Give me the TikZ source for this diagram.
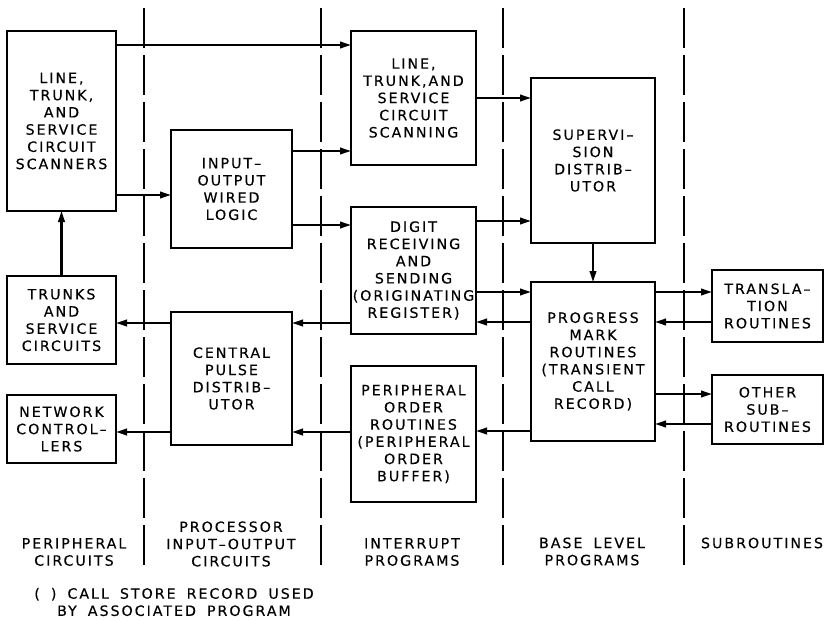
\documentclass[tikz,border=0pt]{standalone}
\usepackage{fontspec}
\setmainfont{DejaVu Sans}[LetterSpace=14,FakeBold=0.3,WordSpace=1.7]
\usetikzlibrary{arrows.meta}
\newcommand\lbl{\fontsize{14.2}{17.2}\selectfont}
\begin{document}
\begin{tikzpicture}[x=1pt,y=-1pt,
  box/.style={draw, line width=1.4pt, inner sep=0pt, outer sep=0pt, align=center, font=\lbl},
  arr/.style={line width=2.2pt, -{Triangle[length=11pt,width=6.5pt]}},
  divider/.style={line width=1.1pt, dash pattern=on 40pt off 7pt},
  lab/.style={align=center, font=\lbl, inner sep=0pt}]
\useasboundingbox[fill=white] (0,0) rectangle (828,621);
% dividers
\draw[divider] (144,8) -- (144,568);
\draw[divider] (321,8) -- (321,568);
\draw[divider] (503,8) -- (503,568);
\draw[divider] (684,8) -- (684,568);
% boxes
\node[box, minimum width=109pt, minimum height=180pt] (scan) at (61.5,121) {LINE,\\TRUNK,\\AND\\SERVICE\\CIRCUIT\\SCANNERS};
\node[box, minimum width=121pt, minimum height=118pt] (iol) at (231.5,189) {INPUT–\\OUTPUT\\WIRED\\LOGIC};
\node[box, minimum width=125pt, minimum height=134pt] (lts) at (413.5,98) {LINE,\\TRUNK,AND\\SERVICE\\CIRCUIT\\SCANNING};
\node[box, minimum width=125pt, minimum height=127pt] (dig) at (413.5,270.5) {DIGIT\\RECEIVING\\AND\\SENDING\\(ORIGINATING\\REGISTER)};
\node[box, minimum width=124pt, minimum height=165pt] (sup) at (593,160.5) {SUPERVI–\\SION\\DISTRIB–\\UTOR};
\node[box, minimum width=124pt, minimum height=159pt] (prog) at (593,361.5) {PROGRESS\\MARK\\ROUTINES\\(TRANSIENT\\CALL\\RECORD)};
\node[box, minimum width=109pt, minimum height=88pt] (trk) at (61.5,320) {TRUNKS\\AND\\SERVICE\\CIRCUITS};
\node[box, minimum width=121pt, minimum height=133pt] (cpd) at (231.5,378.5) {CENTRAL\\PULSE\\DISTRIB–\\UTOR};
\node[box, minimum width=109pt, minimum height=68pt] (net) at (61.5,429) {NETWORK\\CONTROL–\\LERS};
\node[box, minimum width=125pt, minimum height=136pt] (por) at (413.5,434) {PERIPHERAL\\ORDER\\ROUTINES\\(PERIPHERAL\\ORDER\\BUFFER)};
\node[box, minimum width=111pt, minimum height=72pt] (trans) at (767.5,306) {TRANSLA–\\TION\\ROUTINES};
\node[box, minimum width=111pt, minimum height=69pt] (oth) at (767.5,409.5) {OTHER\\SUB–\\ROUTINES};
% connectors
\draw[arr] (scan.east |- 0,45) -- (lts.west |- 0,45);
\draw[arr] (scan.east |- 0,195) -- (iol.west |- 0,195);
\draw[arr] (iol.east |- 0,151) -- (lts.west |- 0,151);
\draw[arr] (iol.east |- 0,225) -- (dig.west |- 0,225);
\draw[arr] (lts.east |- 0,98) -- (sup.west |- 0,98);
\draw[arr] (dig.east |- 0,221) -- (sup.west |- 0,221);
\draw[arr] (sup.south) -- (prog.north);
\draw[arr] (dig.east |- 0,292) -- (prog.west |- 0,292);
\draw[arr] (prog.west |- 0,322) -- (dig.east |- 0,322);
\draw[arr] (dig.west |- 0,323) -- (cpd.east |- 0,323);
\draw[arr] (cpd.west |- 0,323) -- (trk.east |- 0,323);
\draw[arr] (trk.north) -- (scan.south);
\draw[arr] (cpd.west |- 0,432) -- (net.east |- 0,432);
\draw[arr] (por.west |- 0,432) -- (cpd.east |- 0,432);
\draw[arr] (prog.west |- 0,431) -- (por.east |- 0,431);
\draw[arr] (prog.east |- 0,292) -- (trans.west |- 0,292);
\draw[arr] (trans.west |- 0,322) -- (prog.east |- 0,322);
\draw[arr] (prog.east |- 0,394) -- (oth.west |- 0,394);
\draw[arr] (oth.west |- 0,424) -- (prog.east |- 0,424);
% column labels
\node[lab] (c1) at (74,552) {PERIPHERAL\\CIRCUITS};
\node[lab] (c2) at (231,544) {PROCESSOR\\INPUT–OUTPUT\\CIRCUITS};
\node[lab] (c3) at (412,552) {INTERRUPT\\PROGRAMS};
\node[lab] (c4) at (592,551.5) {BASE LEVEL\\PROGRAMS};
\node[lab] (c5) at (762,543) {SUBROUTINES};
\node[lab] (note) at (174,602) {( ) CALL STORE RECORD USED\\BY ASSOCIATED PROGRAM};
\end{tikzpicture}
\end{document}
